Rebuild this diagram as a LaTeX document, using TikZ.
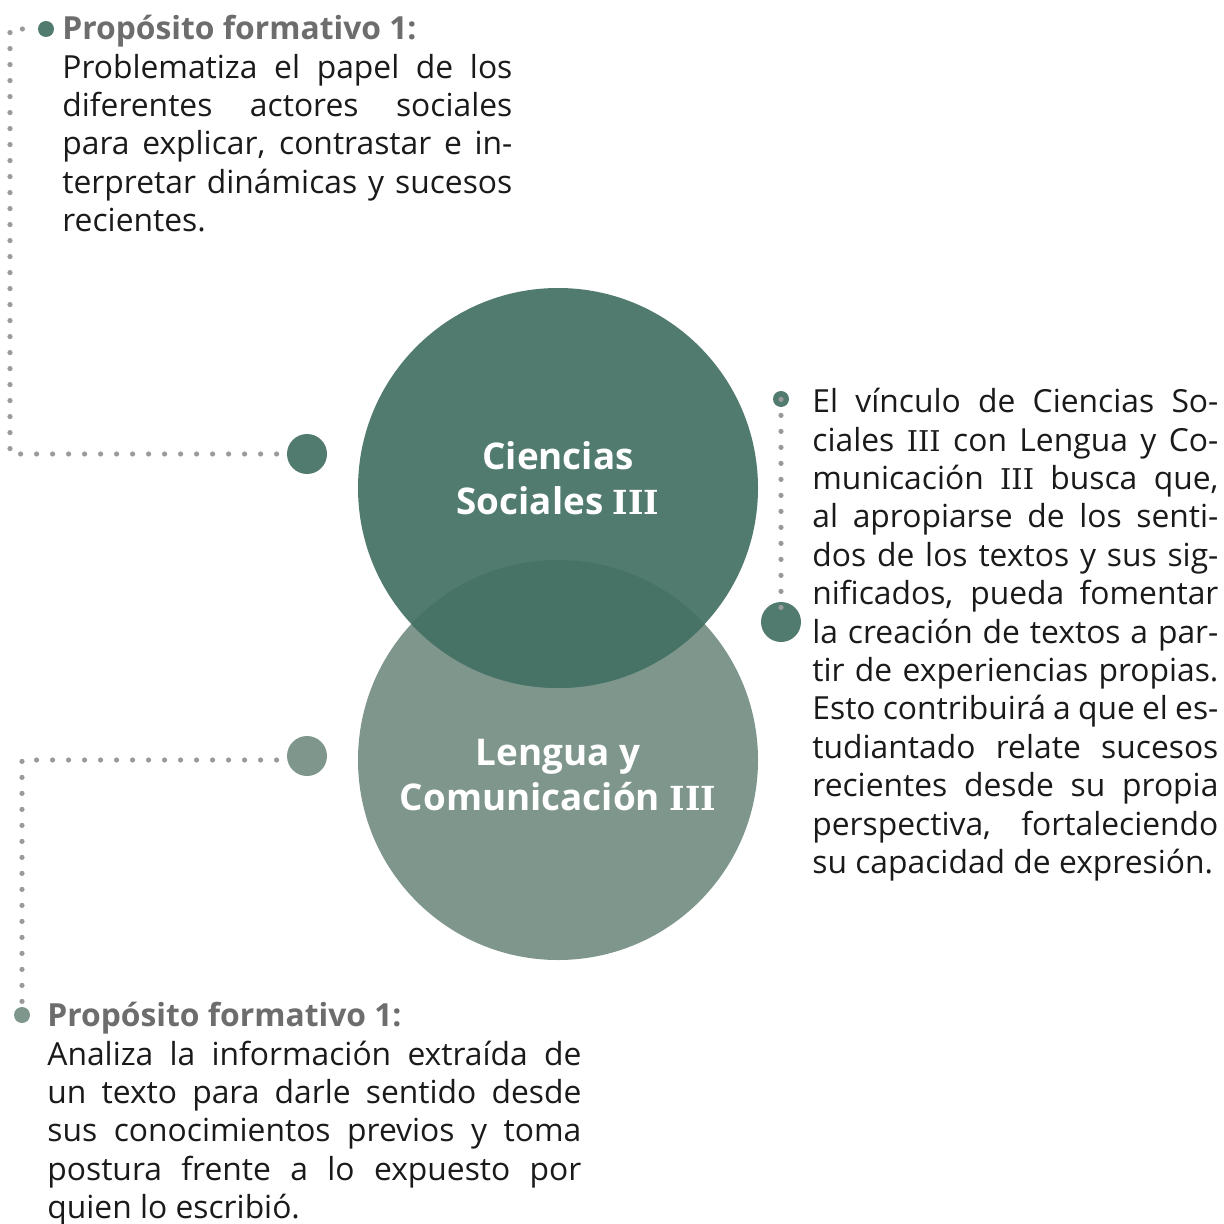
\documentclass[tikz,border=0pt]{standalone}
\usepackage{fontspec}
\IfFontExistsTF{Noto Sans Bold}%
  {\setmainfont{Noto Sans}[BoldFont={Noto Sans Bold}]}%
  {\IfFontExistsTF{Open Sans Bold}%
     {\setmainfont{Open Sans}[BoldFont={Open Sans Bold}]}%
     {\setmainfont{Noto Sans}[AutoFakeBold=2.2]}}
\newfontfamily\romfont{DejaVu Serif}[Scale=0.9]
\newcommand\rnum{{\romfont III}}
\definecolor{topc}{HTML}{527B70}
\definecolor{botc}{HTML}{7F968D}
\definecolor{ovc}{HTML}{477366}
\definecolor{dotgrey}{HTML}{9A9A9A}
\definecolor{headc}{HTML}{6D6D6D}
\definecolor{bodyc}{HTML}{1A1A1A}
\newcommand\jline[2]{\makebox[#1][s]{#2}}
\begin{document}
\begin{tikzpicture}[x=0.5pt,y=-0.5pt,
  bigcirc/.style={circle,minimum size=200pt,inner sep=0pt},
  dotline/.style={draw=dotgrey,line width=2.6pt,line cap=round,dash pattern=on 0pt off 8pt},
  bigdot/.style={circle,minimum size=20pt,inner sep=0pt},
  smalldot/.style={circle,minimum size=8pt,inner sep=0pt},
  body/.style={font=\fontsize{15.9}{19.2}\selectfont,text=bodyc,inner sep=0pt,align=left},
  title/.style={font=\bfseries\fontsize{18.4}{22.5}\selectfont,text=white,align=center,inner sep=0pt}
]
\useasboundingbox[fill=white] (0,0) rectangle (1223,1224);

% big circles
\node[bigcirc,fill=botc] (lc) at (558,760) {};
\node[bigcirc,fill=topc] (cs) at (558,488) {};
\begin{scope}
  \clip (cs.center) circle[radius=100pt];
  \fill[ovc] (lc.center) circle[radius=100pt];
\end{scope}
\node[title] (cslab) at (558,478) {Ciencias\\Sociales \rnum};
\node[title] (lclab) at (558,775) {Lengua y\\Comunicación \rnum};

% connector dots
\node[bigdot,fill=topc] (c1) at (307,454) {};
\node[bigdot,fill=botc] (c2) at (307,756) {};
\node[bigdot,fill=topc] (c3) at (781,622) {};
\node[smalldot,fill=topc] (b1) at (46,29) {};
\node[smalldot,fill=topc] (b3) at (781,399) {};
\node[smalldot,fill=botc] (b2) at (22,1015) {};

\coordinate (k1) at (10,454);
\coordinate (k2) at (10,29);
\coordinate (k3) at (22,760);

\draw[dotline] ([xshift=-5pt]c1.west) -- (k1) -- (k2) -- ([xshift=-1pt]b1.west);
\draw[dotline] ([xshift=-5pt]c2.west |- k3) -- (k3) -- ([yshift=-3pt]b2.north);
\draw[dotline] ([yshift=4pt]b3.south) -- ([yshift=-4pt]c3.north);

% texts
\node[body,anchor=north west] (t1) at (62,15) {%
{\bfseries\color{headc}Propósito formativo 1:}\\
\jline{225pt}{Problematiza el papel de los}\\
\jline{225pt}{diferentes actores sociales}\\
\jline{225pt}{para explicar, contrastar e in-}\\
\jline{225pt}{terpretar dinámicas y sucesos}\\
recientes.};

\node[body,anchor=north west] (t2) at (812,388) {%
\jline{203pt}{El vínculo de Ciencias So-}\\
\jline{203pt}{ciales \rnum{} con Lengua y Co-}\\
\jline{203pt}{municación \rnum{} busca que,}\\
\jline{203pt}{al apropiarse de los senti-}\\
\jline{203pt}{dos de los textos y sus sig-}\\
\jline{203pt}{nificados, pueda fomentar}\\
\jline{203pt}{la creación de textos a par-}\\
\jline{203pt}{tir de experiencias propias.}\\
\jline{203pt}{Esto contribuirá a que el es-}\\
\jline{203pt}{tudiantado relate sucesos}\\
\jline{203pt}{recientes desde su propia}\\
\jline{203pt}{perspectiva, fortaleciendo}\\
su capacidad de expresión.};

\node[body,anchor=north west] (t3) at (47,1002) {%
{\bfseries\color{headc}Propósito formativo 1:}\\
\jline{267pt}{Analiza la información extraída de}\\
\jline{267pt}{un texto para darle sentido desde}\\
\jline{267pt}{sus conocimientos previos y toma}\\
\jline{267pt}{postura frente a lo expuesto por}\\
quien lo escribió.};
\end{tikzpicture}
\end{document}
